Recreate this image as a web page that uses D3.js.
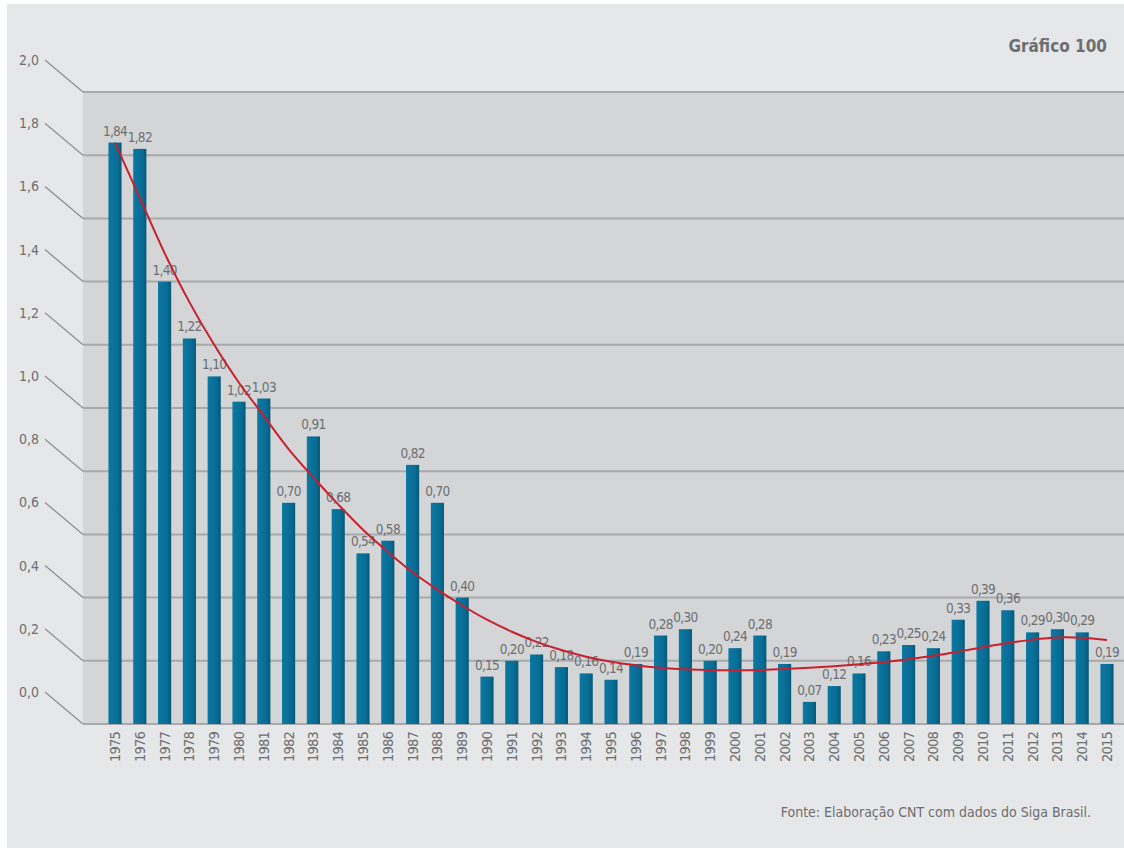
<!DOCTYPE html>
<html>
<head>
<meta charset="utf-8">
<script src="https://cdn.jsdelivr.net/npm/d3@7"></script>
<style>
  html, body { margin: 0; padding: 0; background: #ffffff; }
  svg { display: block; }
  text { font-family: "Liberation Sans Narrow", "DejaVu Sans Condensed", "Roboto", sans-serif; fill: #6d6e71; }
</style>
</head>
<body>
<svg id="chart" width="1124" height="851"></svg>
<script>
// Years on the horizontal axis
const years = [1975, 1976, 1977, 1978, 1979, 1980, 1981, 1982, 1983, 1984,
  1985, 1986, 1987, 1988, 1989, 1990, 1991, 1992, 1993, 1994,
  1995, 1996, 1997, 1998, 1999, 2000, 2001, 2002, 2003, 2004,
  2005, 2006, 2007, 2008, 2009, 2010, 2011, 2012, 2013, 2014, 2015];

// Bar values (labelled above each bar)
const values = [1.84, 1.82, 1.40, 1.22, 1.10, 1.02, 1.03, 0.70, 0.91, 0.68,
  0.54, 0.58, 0.82, 0.70, 0.40, 0.15, 0.20, 0.22, 0.18, 0.16,
  0.14, 0.19, 0.28, 0.30, 0.20, 0.24, 0.28, 0.19, 0.07, 0.12,
  0.16, 0.23, 0.25, 0.24, 0.33, 0.39, 0.36, 0.29, 0.30, 0.29, 0.19];

// Trend curve values, one per year
const trend = [1.84, 1.665, 1.49, 1.335, 1.20, 1.08, 0.975, 0.87, 0.78, 0.695,
  0.615, 0.545, 0.48, 0.425, 0.375, 0.33, 0.292, 0.26, 0.234, 0.213,
  0.197, 0.186, 0.178, 0.173, 0.171, 0.170, 0.171, 0.174, 0.178, 0.183,
  0.189, 0.196, 0.205, 0.216, 0.229, 0.243, 0.256, 0.267, 0.274, 0.273, 0.266];

// Value axis ticks
const yTicks = [0, 0.2, 0.4, 0.6, 0.8, 1.0, 1.2, 1.4, 1.6, 1.8, 2.0];

const title = "Gráfico 100";
const source = "Fonte: Elaboração CNT com dados do Siga Brasil.";

const fmt = v => d3.format(".2f")(v).replace(".", ",");
const fmtTick = v => d3.format(".1f")(v).replace(".", ",");

const svg = d3.select("#chart");

// outer panel
svg.append("rect").attr("x", 7).attr("y", 4).attr("width", 1117).attr("height", 844)
  .attr("fill", "#e6e7e8");

const wallLeft = 83, wallRight = 1124;
const y = d3.scaleLinear().domain([0, 2]).range([724, 92]);
const x = d3.scaleBand().domain(years).range([102.6, 1119.4]).paddingInner(0.47).paddingOuter(0.235);

// back wall
svg.append("rect")
  .attr("x", wallLeft).attr("y", y(2))
  .attr("width", wallRight - wallLeft).attr("height", y(0) - y(2))
  .attr("fill", "#d4d5d7");

// horizontal gridlines on the wall
svg.append("g").selectAll("line").data(yTicks).join("line")
  .attr("x1", wallLeft).attr("x2", wallRight)
  .attr("y1", d => y(d)).attr("y2", d => y(d))
  .attr("stroke", "#a8a9ab").attr("stroke-width", 2);

// perspective side lines running from each tick label to the wall
const dx = 38, dy = 32;
svg.append("g").selectAll("line").data(yTicks).join("line")
  .attr("x1", wallLeft - dx).attr("y1", d => y(d) - dy)
  .attr("x2", wallLeft).attr("y2", d => y(d))
  .attr("stroke", "#8e8f91").attr("stroke-width", 1.3);

// tick labels
svg.append("g").selectAll("text").data(yTicks).join("text")
  .attr("x", 39).attr("y", d => y(d) - dy + 1)
  .attr("text-anchor", "end")
  .attr("dominant-baseline", "middle")
  .attr("font-size", 14)
  .text(fmtTick);

// bar gradient
const defs = svg.append("defs");
const grad = defs.append("linearGradient").attr("id", "barGrad")
  .attr("x1", "0").attr("x2", "1").attr("y1", "0").attr("y2", "0");
grad.append("stop").attr("offset", "0%").attr("stop-color", "#0c78a2");
grad.append("stop").attr("offset", "70%").attr("stop-color", "#086c94");
grad.append("stop").attr("offset", "100%").attr("stop-color", "#045878");

// bars
svg.append("g").selectAll("rect").data(years).join("rect")
  .attr("x", d => x(d))
  .attr("width", x.bandwidth())
  .attr("y", (d, i) => y(values[i]))
  .attr("height", (d, i) => y(0) - y(values[i]))
  .attr("fill", "url(#barGrad)");

// value labels
svg.append("g").selectAll("text").data(years).join("text")
  .attr("x", d => x(d) + x.bandwidth() / 2)
  .attr("y", (d, i) => y(values[i]) - 7)
  .attr("text-anchor", "middle")
  .attr("font-size", 13.5)
  .attr("letter-spacing", -0.7)
  .text((d, i) => fmt(values[i]));

// trend curve
const line = d3.line()
  .x((d, i) => x(years[i]) + x.bandwidth() / 2)
  .y(d => y(d))
  .curve(d3.curveCatmullRom);
svg.append("path").datum(trend)
  .attr("d", line)
  .attr("fill", "none")
  .attr("stroke", "#c9202f")
  .attr("stroke-width", 2);

// year labels, rotated
svg.append("g").selectAll("text").data(years).join("text")
  .attr("transform", d => `translate(${x(d) + x.bandwidth() / 2 + 5},${y(0) + 8}) rotate(-90)`)
  .attr("text-anchor", "end")
  .attr("font-size", 14.5)
  .attr("letter-spacing", -0.8)
  .attr("fill", "#58595b")
  .text(d => d);

// title
svg.append("text")
  .attr("x", 1107).attr("y", 52)
  .attr("text-anchor", "end")
  .attr("font-size", 17)
  .attr("font-weight", "bold")
  .text(title);

// source note
svg.append("text")
  .attr("x", 1091).attr("y", 817)
  .attr("text-anchor", "end")
  .attr("font-size", 14)
  .text(source);
</script>
</body>
</html>
